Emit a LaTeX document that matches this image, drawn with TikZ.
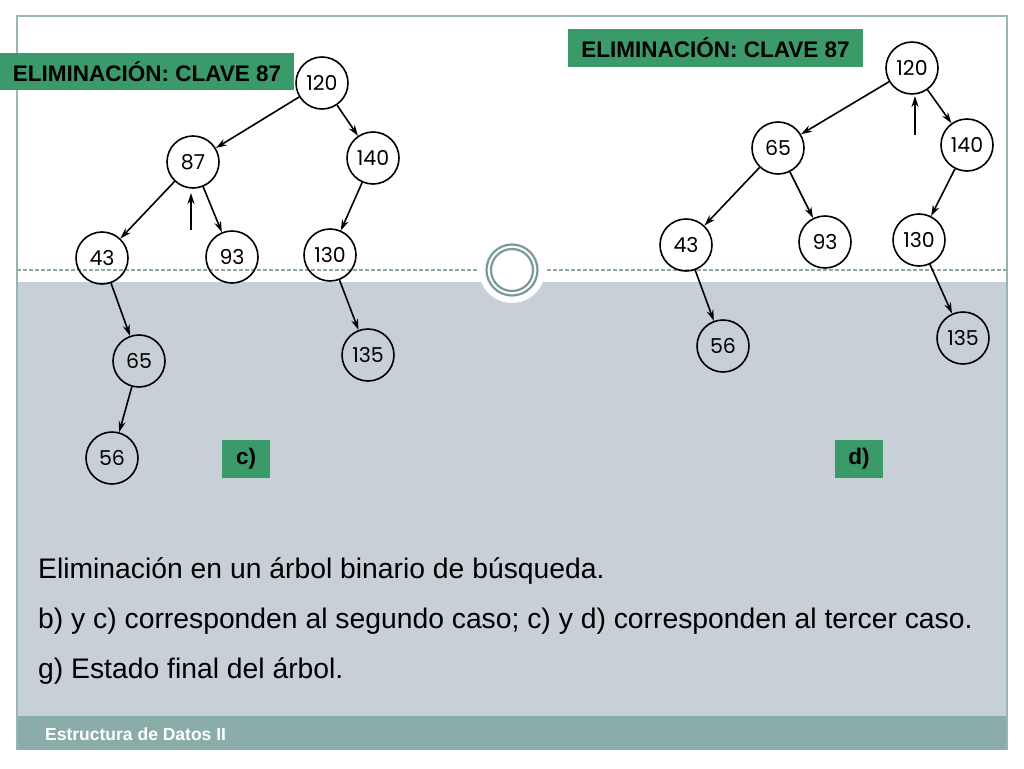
\documentclass[tikz,border=0pt]{standalone}
\usepackage{fontspec}
\setmainfont{Liberation Sans}
\newfontfamily\numfont{Poppins}
\usetikzlibrary{arrows.meta}
\definecolor{slidegrey}{HTML}{C6D0D6}
\definecolor{footteal}{HTML}{8AADAA}
\definecolor{framecol}{HTML}{9BB5B5}
\definecolor{ringcol}{HTML}{7A9A9A}
\definecolor{dashcol}{HTML}{8FA8A8}
\definecolor{labgreen}{HTML}{3A9A6A}
\tikzset{
  tnode/.style={circle,draw=black,line width=1.6pt,minimum size=52pt,inner sep=0pt,font=\numfont\fontsize{20.5}{20.5}\selectfont},
  edge/.style={line width=1.6pt,-{Stealth[length=11pt,width=7pt]}},
  labbox/.style={fill=labgreen,inner sep=0pt,font=\bfseries\fontsize{22.5}{22.5}\selectfont,text=black},
  bodytext/.style={anchor=west,inner sep=0pt,font=\fontsize{28.3}{28.3}\selectfont,text=black}
}
\begin{document}
\begin{tikzpicture}[x=1pt,y=-1pt]
\useasboundingbox (0,0) rectangle (1024,768);
\fill[white] (0,0) rectangle (1024,768);
% slide areas
\fill[slidegrey] (17,282) rectangle (1007,716);
\fill[footteal] (17,716) rectangle (1007,750);
\draw[framecol,line width=1.2pt] (17,750) -- (17,16) -- (1007,16) -- (1007,750);
\draw[dashcol,line width=1.5pt,dash pattern=on 4pt off 2pt] (17,270) -- (478,270);
\draw[dashcol,line width=1.5pt,dash pattern=on 4pt off 2pt] (547,270) -- (1007,270);
\fill[white] (512,270) circle (33);
\draw[ringcol,line width=2.2pt] (512,270) circle (25.5);
\draw[ringcol,line width=2.2pt] (512,270) circle (21);
\node[anchor=west,inner sep=0pt,text=white,font=\bfseries\fontsize{17.5}{17.5}\selectfont] (foot) at (45,734) {Estructura de Datos II};
% labels
\node[labbox,minimum width=294pt,minimum height=37pt] (labL) at (147,71.5) {ELIMINACIÓN: CLAVE 87};
\node[labbox,minimum width=295pt,minimum height=38pt] (labR) at (715.5,48) {ELIMINACIÓN: CLAVE 87};
\node[labbox,minimum width=48pt,minimum height=38pt] (labc) at (246,459) {c)};
\node[labbox,minimum width=48pt,minimum height=38pt] (labd) at (859,459) {d)};
% left tree
\node[tnode] (a120) at (322,83) {120};
\node[tnode] (a87) at (193,162) {87};
\node[tnode] (a140) at (373,158) {140};
\node[tnode] (a43) at (102,258) {43};
\node[tnode] (a93) at (232,257) {93};
\node[tnode] (a130) at (330,255) {130};
\node[tnode] (a65) at (139,361) {65};
\node[tnode] (a56) at (112,458) {56};
\node[tnode] (a135) at (368,355) {135};
\draw[edge] (a120) -- (a87);
\draw[edge] (a120) -- (a140);
\draw[edge] (a87) -- (a43);
\draw[edge] (a87) -- (a93);
\draw[edge] (a140) -- (a130);
\draw[edge] (a43) -- (a65);
\draw[edge] (a65) -- (a56);
\draw[edge] (a130) -- (a135);
\coordinate (pa) at (191,230);
\coordinate (pb) at (191,193);
\draw[edge] (pa) -- (pb);
% right tree
\node[tnode] (b120) at (912,68) {120};
\node[tnode] (b65) at (778,148) {65};
\node[tnode] (b140) at (967,145) {140};
\node[tnode] (b43) at (686,245) {43};
\node[tnode] (b93) at (825,242) {93};
\node[tnode] (b130) at (919,240) {130};
\node[tnode] (b56) at (723,346) {56};
\node[tnode] (b135) at (963,338) {135};
\draw[edge] (b120) -- (b65);
\draw[edge] (b120) -- (b140);
\draw[edge] (b65) -- (b43);
\draw[edge] (b65) -- (b93);
\draw[edge] (b140) -- (b130);
\draw[edge] (b43) -- (b56);
\draw[edge] (b130) -- (b135);
\coordinate (qa) at (915,135);
\coordinate (qb) at (915,96);
\draw[edge] (qa) -- (qb);
% body text
\node[bodytext] (t1) at (38,571) {Eliminación en un árbol binario de búsqueda.};
\node[bodytext] (t2) at (38,621) {b) y c) corresponden al segundo caso; c) y d) corresponden al tercer caso.};
\node[bodytext] (t3) at (38,671) {g) Estado final del árbol.};
\end{tikzpicture}
\end{document}
